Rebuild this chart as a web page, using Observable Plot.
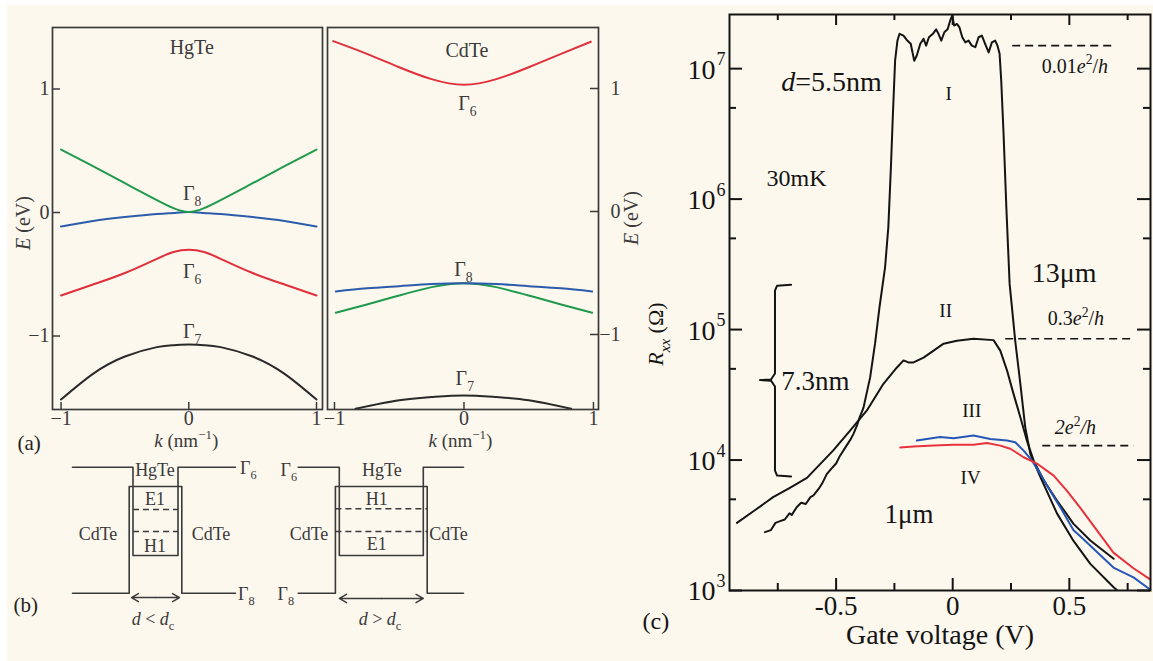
<!DOCTYPE html>
<html><head><meta charset="utf-8">
<script src="https://cdn.jsdelivr.net/npm/d3@7"></script>
<script src="https://cdn.jsdelivr.net/npm/@observablehq/plot@0.6"></script>
<style>
body{margin:0;background:#fff;}
#fig{position:relative;width:1153px;height:661px;background:#fff;overflow:hidden;}
#paper{position:absolute;left:7px;top:5px;width:1146px;height:656px;background:#fdf8ee;}
#fig svg{position:absolute;overflow:visible;max-width:none;}
</style></head><body><div id="fig"><div id="paper"></div></div>
<script>
// ---------- (a) band structure data (E in eV vs k in nm^-1) ----------
const kHg = [-1, -0.75, -0.5, -0.25, -0.12, 0, 0.12, 0.25, 0.5, 0.75, 1];
const hgGreenG8 = [0.51, 0.375, 0.237, 0.1, 0.035, 0.004, 0.035, 0.1, 0.237, 0.375, 0.51];
const hgBlueG8  = [-0.113, -0.068, -0.037, -0.012, -0.003, 0.004, -0.003, -0.012, -0.037, -0.068, -0.113];
const hgRedG6   = [-0.672, -0.583, -0.49, -0.375, -0.32, -0.302, -0.32, -0.375, -0.49, -0.583, -0.672];
const hgBlackG7 = [-1.514, -1.306, -1.166, -1.09, -1.074, -1.069, -1.074, -1.09, -1.166, -1.306, -1.514];

const kCdRed = [-1.01, -0.75, -0.5, -0.25, 0, 0.25, 0.5, 0.75, 0.98];
const cdRedG6 = [1.385, 1.282, 1.173, 1.076, 1.03, 1.076, 1.173, 1.282, 1.38];
const kCdG8 = [-0.99, -0.75, -0.5, -0.25, 0, 0.25, 0.5, 0.75, 0.99];
const cdBlueG8  = [-0.65, -0.625, -0.607, -0.59, -0.583, -0.59, -0.607, -0.625, -0.65];
const cdGreenG8 = [-0.824, -0.756, -0.683, -0.615, -0.583, -0.615, -0.683, -0.756, -0.824];
const kCdG7 = [-0.838, -0.5, -0.25, 0, 0.25, 0.5, 0.828];
const cdBlackG7 = [-1.604, -1.535, -1.509, -1.496, -1.509, -1.535, -1.604];

const kTicks = [-1, 0, 1];
const eTicks = [-1, 0, 1];

// ---------- (b) quantum-well schematic (position in nm, energy in schematic units) ----------
const wellCenter = [15.5, 38.08];
const wellHalfG6 = [2.25, 4.2];
const wellHalfG8 = [2.63, 4.59];
const dashHalf = [2.25, 4.59];
const arrowHalf = [2.4, 4.2];
const arrowLevel = [-0.055, -0.067];
const barrierStart = [7.2, 29.77];
const barrierEnd = [23.5, 46.3];
const levelCdG6 = 1.6, levelCdG8 = 0, levelHgG8 = 1.355, levelHgG6 = 0.479;
const subUpper = [1.063, 1.072];
const subLower = [0.783, 0.783];
const subUpperName = ["E1", "H1"];
const subLowerName = ["H1", "E1"];
const widthRelation = ["<", ">"];

// ---------- (c) Rxx (Ohm) vs gate voltage (V) ----------
const curveI = [[-0.805,2.8e3],[-0.78,2.9e3],[-0.76,3.3e3],[-0.74,3.4e3],[-0.72,3.5e3],[-0.70,3.9e3],[-0.69,3.8e3],[-0.669,4.35e3],[-0.65,4.7e3],[-0.63,4.6e3],[-0.61,5.2e3],[-0.597,5.35e3],[-0.575,6.0e3],[-0.56,6.6e3],[-0.54,7.8e3],[-0.52,8.6e3],[-0.50,9.4e3],[-0.483,1.08e4],[-0.46,1.25e4],[-0.44,1.42e4],[-0.426,1.58e4],[-0.41,1.85e4],[-0.40,2.1e4],[-0.383,2.5e4],[-0.354,4.3e4],[-0.333,7.8e4],[-0.314,1.48e5],[-0.29,3.0e5],[-0.276,6.1e5],[-0.265,1.75e6],[-0.257,4.2e6],[-0.247,1.15e7],[-0.237,1.64e7],[-0.228,1.85e7],[-0.211,1.79e7],[-0.197,1.66e7],[-0.18,1.55e7],[-0.165,1.15e7],[-0.154,1.26e7],[-0.139,1.55e7],[-0.125,1.69e7],[-0.114,1.5e7],[-0.102,1.74e7],[-0.085,1.85e7],[-0.071,2.0e7],[-0.061,1.85e7],[-0.049,1.64e7],[-0.036,1.9e7],[-0.022,2.0e7],[-0.011,2.33e7],[-0.002,2.55e7],[0.006,2.14e7],[0.018,2.2e7],[0.029,2.07e7],[0.041,1.74e7],[0.054,1.59e7],[0.068,1.64e7],[0.082,1.5e7],[0.097,1.46e7],[0.111,1.74e7],[0.125,1.79e7],[0.139,1.55e7],[0.154,1.33e7],[0.168,1.59e7],[0.182,1.64e7],[0.192,1.5e7],[0.201,1.3e7],[0.208,8.1e6],[0.218,3.16e6],[0.23,8.6e5],[0.244,2.24e5],[0.254,1.48e5],[0.268,8.2e4],[0.29,3.84e4],[0.311,1.78e4],[0.333,1.11e4],[0.376,7.4e3],[0.447,3.9e3],[0.518,2.4e3],[0.59,1.6e3],[0.69,1.06e3],[0.72,0.95e3]];
const curveII = [[-0.925,3.3e3],[-0.85,4.1e3],[-0.77,5.2e3],[-0.7,6.1e3],[-0.625,7.3e3],[-0.513,1.18e4],[-0.44,1.68e4],[-0.368,2.4e4],[-0.297,3.84e4],[-0.24,5.1e4],[-0.211,5.8e4],[-0.19,5.6e4],[-0.168,5.6e4],[-0.125,6.1e4],[-0.082,6.9e4],[-0.039,7.8e4],[0.018,8.2e4],[0.089,8.5e4],[0.175,8.3e4],[0.204,6.9e4],[0.233,4.85e4],[0.261,3.2e4],[0.29,2.13e4],[0.318,1.41e4],[0.347,9.9e3],[0.39,7.0e3],[0.447,4.9e3],[0.518,3.24e3],[0.59,2.42e3],[0.69,1.75e3]];
const curveIII = [[-0.154,1.41e4],[-0.111,1.45e4],[-0.054,1.5e4],[0.004,1.47e4],[0.089,1.54e4],[0.161,1.45e4],[0.233,1.41e4],[0.268,1.37e4],[0.304,1.18e4],[0.34,9.9e3],[0.376,7.8e3],[0.418,5.8e3],[0.461,4.35e3],[0.518,2.9e3],[0.547,2.6e3],[0.689,1.5e3],[0.775,1.26e3],[0.852,1.0e3]];
const curveIV = [[-0.225,1.25e4],[-0.168,1.27e4],[-0.082,1.29e4],[0.004,1.31e4],[0.089,1.31e4],[0.147,1.35e4],[0.204,1.29e4],[0.247,1.22e4],[0.304,1.05e4],[0.361,9.4e3],[0.433,7.6e3],[0.49,5.8e3],[0.547,4.3e3],[0.689,1.95e3],[0.775,1.48e3],[0.852,1.2e3]];
const refR = [1.5e7, 8.5e4, 1.29e4];
const refV0 = [0.255, 0.225, 0.384];
const refV1 = [0.685, 0.775, 0.775];
const braceV = [-0.693, -0.753, -0.762, -0.762, -0.779, -0.826, -0.779, -0.762, -0.762, -0.753, -0.693];
const braceR = [2.21e5, 2.17e5, 1.99e5, 4.6e4, 4.14e4, 4.1e4, 4.06e4, 3.66e4, 8.3e3, 7.6e3, 7.48e3];
const vMajor = [-0.5, 0, 0.5];
const vMinor = [-0.75, -0.25, 0.25, 0.75];
const rMajor = [1e3, 1e4, 1e5, 1e6, 1e7];
const rMinor = [5e3, 5e4, 5e5, 5e6];

// ---------- styling ----------
const SERIF = "'Liberation Serif','Times New Roman',Times,serif";
const INK_A = "#3a3a3a", INK_C = "#141414";
const GREEN = "#1f9a4c", BLUE = "#2b5cab", RED = "#e1303b", BLACK = "#2a2a2a";
const BLUE_C = "#2657b6", RED_C = "#e8323c";
const fig = document.getElementById("fig");
const fmtE = d => d < 0 ? "−" + Math.abs(d) : String(d);

function pts(xs, ys) { return xs.map((x, i) => ({x, y: ys[i]})); }
function pairs(a) { return a.map(([x, y]) => ({x, y})); }
function place(svg, left, top) { svg.style.left = left + "px"; svg.style.top = top + "px"; fig.appendChild(svg); return svg; }
function rich(svg, x, y, parts, o = {}) {
  const size = o.size || 20;
  const t = d3.select(svg).append("text")
    .attr("x", x).attr("y", y)
    .attr("font-family", SERIF).attr("font-size", size)
    .attr("fill", o.fill || "#2a2a2a")
    .attr("text-anchor", o.anchor || "start");
  if (o.rotate) t.attr("transform", `rotate(${o.rotate},${x},${y})`);
  let shift = 0;
  for (const p of parts) {
    const s = Array.isArray(p) ? p[0] : p;
    const st = (Array.isArray(p) ? (p[1] || "") : "").split(" ");
    const target = st.includes("sub") ? size * 0.3 : st.includes("sup") ? -size * 0.42 : 0;
    const ts = t.append("tspan").text(s);
    if (target - shift !== 0) ts.attr("dy", target - shift);
    shift = target;
    if (st.includes("sub") || st.includes("sup")) ts.attr("font-size", size * 0.68);
    if (st.includes("i")) ts.attr("font-style", "italic");
  }
  return t;
}
function richAt(plot, xv, yv, parts, o) {
  return rich(plot, plot.scale("x").apply(xv), plot.scale("y").apply(yv), parts, o);
}
const G = n => [["Γ"], [String(n), "sub"]];

// ---------- (a) left: HgTe ----------
{
  const W = 330, H = 460, ml = 52, mr = 8, mt = 27, mb = 51;
  const iw = W - ml - mr, ih = H - mt - mb;
  const p = Plot.plot({
    width: W, height: H, marginLeft: ml, marginRight: mr, marginTop: mt, marginBottom: mb,
    style: {background: "transparent", fontFamily: SERIF, color: INK_A},
    x: {domain: [-1.067, 1.047]},
    y: {domain: [-1.595, 1.498]},
    marks: [
      Plot.line(pts(kHg, hgBlackG7), {x: "x", y: "y", stroke: BLACK, strokeWidth: 2, curve: "natural"}),
      Plot.line(pts(kHg, hgRedG6), {x: "x", y: "y", stroke: RED, strokeWidth: 2, curve: "natural"}),
      Plot.line(pts(kHg, hgBlueG8), {x: "x", y: "y", stroke: BLUE, strokeWidth: 2, curve: "natural"}),
      Plot.line(pts(kHg, hgGreenG8), {x: "x", y: "y", stroke: GREEN, strokeWidth: 2, curve: "natural"}),
      Plot.frame({stroke: INK_A, strokeWidth: 1.7}),
      Plot.tickX(kTicks, {x: d => d, insetTop: ih - 7, stroke: INK_A, strokeWidth: 1.5}),
      Plot.tickY(eTicks, {y: d => d, insetRight: iw - 8, stroke: INK_A, strokeWidth: 1.5}),
      Plot.axisX(kTicks, {tickSize: 0, tickPadding: 1, fontSize: 20, label: null, tickFormat: fmtE}),
      Plot.axisY(eTicks, {tickSize: 0, tickPadding: 3, fontSize: 20, label: null, tickFormat: fmtE}),
      Plot.text(["(a)"], {frameAnchor: "bottom-left", text: d => d, dx: -35, dy: 40, textAnchor: "start", fontSize: 21, fill: "#222"})
    ]
  });
  place(p, 0, 0);
  richAt(p, 0.027, 1.279, ["HgTe"], {size: 20, anchor: "middle", fill: INK_A});
  richAt(p, 0.03, 0.097, G(8), {size: 20, anchor: "middle", fill: INK_A});
  richAt(p, 0.03, -0.534, G(6), {size: 20, anchor: "middle", fill: INK_A});
  richAt(p, 0.03, -1.02, G(7), {size: 20, anchor: "middle", fill: INK_A});
  rich(p, 30, mt + ih / 2 + 5, [["E", "i"], [" (eV)"]], {size: 20, anchor: "middle", rotate: -90, fill: INK_A});
  rich(p, p.scale("x").apply(0) - 2, H - mb + 38, [["k", "i"], [" (nm"], ["−1", "sup"], [")"]], {size: 19, anchor: "middle", fill: INK_A});
}

// ---------- (a) right: CdTe ----------
{
  const W = 330, H = 460, ml = 7, mr = 52, mt = 27, mb = 51;
  const iw = W - ml - mr, ih = H - mt - mb;
  const p = Plot.plot({
    width: W, height: H, marginLeft: ml, marginRight: mr, marginTop: mt, marginBottom: mb,
    style: {background: "transparent", fontFamily: SERIF, color: INK_A},
    x: {domain: [-1.054, 1.039]},
    y: {domain: [-1.61, 1.496], axis: null},
    marks: [
      Plot.line(pts(kCdG7, cdBlackG7), {x: "x", y: "y", stroke: BLACK, strokeWidth: 2, curve: "natural", clip: true}),
      Plot.line(pts(kCdG8, cdGreenG8), {x: "x", y: "y", stroke: GREEN, strokeWidth: 2, curve: "natural"}),
      Plot.line(pts(kCdG8, cdBlueG8), {x: "x", y: "y", stroke: BLUE, strokeWidth: 2, curve: "natural"}),
      Plot.line(pts(kCdRed, cdRedG6), {x: "x", y: "y", stroke: RED, strokeWidth: 2, curve: "natural"}),
      Plot.frame({stroke: INK_A, strokeWidth: 1.7}),
      Plot.tickX(kTicks, {x: d => d, insetTop: ih - 7, stroke: INK_A, strokeWidth: 1.5}),
      Plot.tickY(eTicks, {y: d => d, insetLeft: iw - 8, stroke: INK_A, strokeWidth: 1.5}),
      Plot.axisX(kTicks, {tickSize: 0, tickPadding: 1, fontSize: 20, label: null, tickFormat: fmtE}),
      Plot.text(eTicks, {frameAnchor: "right", y: d => d, text: fmtE, dx: 22, textAnchor: "end", fontSize: 20, fill: INK_A})
    ]
  });
  place(p, 320, 0);
  richAt(p, 0.027, 1.252, ["CdTe"], {size: 20, anchor: "middle", fill: INK_A});
  richAt(p, 0.03, 0.821, G(6), {size: 20, anchor: "middle", fill: INK_A});
  richAt(p, 0.0, -0.528, G(8), {size: 20, anchor: "middle", fill: INK_A});
  richAt(p, 0.01, -1.415, G(7), {size: 20, anchor: "middle", fill: INK_A});
  rich(p, W - 12, mt + ih / 2, [["E", "i"], [" (eV)"]], {size: 20, anchor: "middle", rotate: -90, fill: INK_A});
  rich(p, p.scale("x").apply(0) - 3, H - mb + 38, [["k", "i"], [" (nm"], ["−1", "sup"], [")"]], {size: 19, anchor: "middle", fill: INK_A});
}

// ---------- (b) schematic ----------
{
  const W = 480, H = 200;
  const g6 = [], g8 = [], dashes = [], arrows = [];
  wellCenter.forEach((c, i) => {
    const h6 = wellHalfG6[i], h8 = wellHalfG8[i];
    [[barrierStart[i], levelCdG6], [c - h6, levelCdG6], [c - h6, levelHgG6], [c + h6, levelHgG6], [c + h6, levelCdG6], [barrierEnd[i], levelCdG6]]
      .forEach(([x, y]) => g6.push({x, y, z: i}));
    [[barrierStart[i], levelCdG8], [c - h8, levelCdG8], [c - h8, levelHgG8], [c + h8, levelHgG8], [c + h8, levelCdG8], [barrierEnd[i], levelCdG8]]
      .forEach(([x, y]) => g8.push({x, y, z: i}));
    dashes.push({x1: c - dashHalf[i], x2: c + dashHalf[i], y: subUpper[i]});
    dashes.push({x1: c - dashHalf[i], x2: c + dashHalf[i], y: subLower[i]});
    arrows.push({x1: c, x2: c - arrowHalf[i], y: arrowLevel[i]});
    arrows.push({x1: c, x2: c + arrowHalf[i], y: arrowLevel[i]});
  });
  const p = Plot.plot({
    width: W, height: H, marginLeft: 0, marginRight: 0, marginTop: 0, marginBottom: 0,
    style: {background: "transparent", fontFamily: SERIF, color: INK_A},
    x: {domain: [0, 48], axis: null},
    y: {domain: [-0.6006, 1.939], axis: null},
    marks: [
      Plot.line(g6, {x: "x", y: "y", z: "z", stroke: INK_A, strokeWidth: 1.6}),
      Plot.line(g8, {x: "x", y: "y", z: "z", stroke: INK_A, strokeWidth: 1.6}),
      Plot.link(dashes, {x1: "x1", x2: "x2", y1: "y", y2: "y", stroke: INK_A, strokeWidth: 1.6, strokeDasharray: "6,4"}),
      Plot.arrow(arrows, {x1: "x1", x2: "x2", y1: "y", y2: "y", stroke: INK_A, strokeWidth: 1.4, headLength: 9, bend: 0}),
      Plot.text(["(b)"], {frameAnchor: "top-left", text: d => d, dx: 13, dy: 157, textAnchor: "start", fontSize: 21, fill: "#222"})
    ]
  });
  place(p, 0, 440);
  const o = {size: 18, anchor: "middle", fill: INK_A};
  wellCenter.forEach((c, i) => {
    richAt(p, c + (i ? 0.1 : 0), 1.482, ["HgTe"], o);
    richAt(p, c - (i ? 0.4 : 0), 1.113, [subUpperName[i]], o);
    richAt(p, c - (i ? 0.4 : 0), i ? 0.542 : 0.517, [subLowerName[i]], o);
    richAt(p, c + (i ? -7.18 : -5.7), 0.669, ["CdTe"], o);
    richAt(p, c + (i ? 6.77 : 5.6), 0.669, ["CdTe"], o);
    richAt(p, c - (i ? 0.08 : 0.2), -0.41, [["d", "i"], [" " + widthRelation[i] + " "], ["d", "i"], ["c", "sub"]], o);
  });
  richAt(p, 24.0, 1.507, G(6), {size: 18, fill: INK_A});
  richAt(p, 23.8, -0.093, G(8), {size: 18, fill: INK_A});
  richAt(p, 29.7, 1.482, G(6), {size: 18, anchor: "end", fill: INK_A});
  richAt(p, 29.4, -0.093, G(8), {size: 18, anchor: "end", fill: INK_A});
}

// ---------- (c) Rxx vs gate voltage ----------
{
  const W = 513, H = 661, ml = 89, mr = 3, mt = 14, mb = 71;
  const iw = W - ml - mr, ih = H - mt - mb;
  const refs = refR.map((r, i) => ({x1: refV0[i], x2: refV1[i], y: r}));
  const p = Plot.plot({
    width: W, height: H, marginLeft: ml, marginRight: mr, marginTop: mt, marginBottom: mb,
    style: {background: "transparent", fontFamily: SERIF, color: INK_C},
    x: {domain: [-0.957, 0.848]},
    y: {type: "log", domain: [1e3, 2.6e7], axis: null},
    marks: [
      Plot.line(pairs(curveII), {x: "x", y: "y", stroke: INK_C, strokeWidth: 2, clip: true}),
      Plot.line(pairs(curveI), {x: "x", y: "y", stroke: INK_C, strokeWidth: 2, clip: true}),
      Plot.line(pairs(curveIII), {x: "x", y: "y", stroke: BLUE_C, strokeWidth: 2, clip: true}),
      Plot.line(pairs(curveIV), {x: "x", y: "y", stroke: RED_C, strokeWidth: 2, clip: true}),
      Plot.link(refs, {x1: "x1", x2: "x2", y1: "y", y2: "y", stroke: INK_C, strokeWidth: 1.6, strokeDasharray: "8,5"}),
      Plot.line(pts(braceV, braceR), {x: "x", y: "y", stroke: INK_C, strokeWidth: 2, curve: "linear"}),
      Plot.frame({stroke: INK_C, strokeWidth: 2}),
      Plot.tickX(vMajor, {x: d => d, insetTop: ih - 12, stroke: INK_C, strokeWidth: 2}),
      Plot.tickX(vMinor, {x: d => d, insetTop: ih - 7, stroke: INK_C, strokeWidth: 2}),
      Plot.tickX(vMajor, {x: d => d, insetBottom: ih - 11, stroke: INK_C, strokeWidth: 2}),
      Plot.tickX(vMinor, {x: d => d, insetBottom: ih - 6, stroke: INK_C, strokeWidth: 2}),
      Plot.tickY(rMajor, {y: d => d, insetRight: iw - 13, stroke: INK_C, strokeWidth: 2}),
      Plot.tickY(rMinor, {y: d => d, insetRight: iw - 7, stroke: INK_C, strokeWidth: 2}),
      Plot.tickY(rMajor, {y: d => d, insetLeft: iw - 13, stroke: INK_C, strokeWidth: 2}),
      Plot.tickY(rMinor, {y: d => d, insetLeft: iw - 7, stroke: INK_C, strokeWidth: 2}),
      Plot.axisX(vMajor, {tickSize: 0, tickPadding: 5, fontSize: 27, label: null, tickFormat: d => String(d)}),
      Plot.text(rMajor, {frameAnchor: "left", y: d => d, text: () => "10", dx: -14, dy: 1, textAnchor: "end", fontSize: 28, fill: INK_C}),
      Plot.text(rMajor, {frameAnchor: "left", y: d => d, text: d => String(Math.round(Math.log10(d))), dx: -13, dy: -9, textAnchor: "start", fontSize: 18, fill: INK_C}),
      Plot.text(["Gate voltage (V)"], {frameAnchor: "bottom", text: d => d, dy: 53, fontSize: 28, fill: INK_C}),
      Plot.text(["(c)"], {frameAnchor: "bottom-left", text: d => d, dx: -87, dy: 38, textAnchor: "start", fontSize: 24, fill: INK_C})
    ]
  });
  place(p, 640, 0);
  const f = INK_C;
  richAt(p, -0.733, 6.7e6, [["d", "i"], ["=5.5nm"]], {size: 28, fill: f});
  richAt(p, -0.015, 5.7e6, ["I"], {size: 19, anchor: "middle", fill: f});
  richAt(p, -0.796, 1.25e6, ["30mK"], {size: 24, fill: f});
  richAt(p, 0.341, 2.3e5, ["13μm"], {size: 28, fill: f});
  richAt(p, -0.028, 1.24e5, ["II"], {size: 19, anchor: "middle", fill: f});
  richAt(p, 0.41, 1.07e5, ["0.3", ["e", "i"], ["2", "sup"], "/", ["h", "i"]], {size: 20, fill: f});
  richAt(p, 0.384, 9.2e6, ["0.01", ["e", "i"], ["2", "sup"], "/", ["h", "i"]], {size: 20, fill: f});
  richAt(p, -0.733, 3.4e4, ["7.3nm"], {size: 27, fill: f});
  richAt(p, 0.084, 2.12e4, ["III"], {size: 19, anchor: "middle", fill: f});
  richAt(p, 0.44, 1.57e4, [["2", "i"], ["e", "i"], ["2", "sup"], ["/", "i"], ["h", "i"]], {size: 20, fill: f});
  richAt(p, 0.079, 6.5e3, ["IV"], {size: 19, anchor: "middle", fill: f});
  richAt(p, -0.29, 3.26e3, ["1μm"], {size: 27, fill: f});
  rich(p, 23, mt + ih / 2 + 32, [["R", "i"], ["xx", "i sub"], [" (Ω)"]], {size: 22, anchor: "middle", rotate: -90, fill: f});
}
</script></body></html>
